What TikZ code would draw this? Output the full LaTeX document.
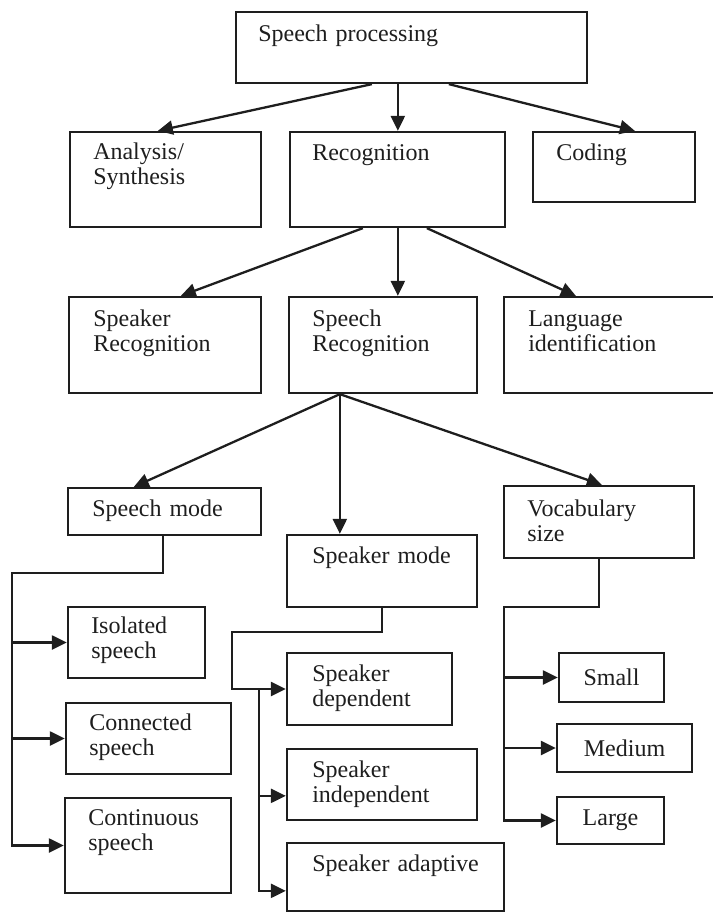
\documentclass[tikz,border=0pt]{standalone}
\usepackage{fontspec}
\setmainfont{Liberation Serif}
\usetikzlibrary{arrows.meta,calc,fit}
\definecolor{ink}{RGB}{30,30,30}
\begin{document}
\begin{tikzpicture}[x=0.5pt,y=-0.5pt,
  box/.style={draw=ink, line width=1.15pt, inner sep=0pt},
  lbl/.style={anchor=base west, inner sep=0pt, text width=110pt, align=left,
              text=ink, font=\fontsize{12}{12.5}\selectfont},
  clbl/.style={inner sep=0pt, text=ink, font=\fontsize{12}{12.5}\selectfont},
  wire/.style={draw=ink, line width=1.15pt},
  arrow/.style={wire, -{Triangle[length=7.5pt,width=7pt]}}]
\useasboundingbox (0,0) rectangle (712,914);

% ---- boxes ----
\node[box, fit={(236,12)(587,83)}]   (sp)     {};
\node[box, fit={(70,132)(261,227)}]  (as)     {};
\node[box, fit={(290,132)(505,227)}] (rec)    {};
\node[box, fit={(533,132)(695,202)}] (cod)    {};
\node[box, fit={(69,297)(261,393)}]  (spkr)   {};
\node[box, fit={(289,297)(477,393)}] (sprec)  {};
\node[box, fit={(504,297)(716,393)}] (lang)   {};
\node[box, fit={(68,488)(261,535)}]  (smode)  {};
\node[box, fit={(287,535)(477,607)}] (spmode) {};
\node[box, fit={(504,486)(694,558)}] (voc)    {};
\node[box, fit={(68,607)(205,678)}]  (iso)    {};
\node[box, fit={(66,703)(231,774)}]  (conn)   {};
\node[box, fit={(65,798)(231,893)}]  (cont)   {};
\node[box, fit={(287,653)(452,725)}] (dep)    {};
\node[box, fit={(287,749)(477,820)}] (ind)    {};
\node[box, fit={(287,843)(504,911)}] (ada)    {};
\node[box, fit={(559,653)(664,702)}] (small)  {};
\node[box, fit={(557,724)(692,772)}] (med)    {};
\node[box, fit={(557,797)(664,844)}] (large)  {};

% ---- labels ----
\node[lbl] (sp-t)     at ($(sp.north west)+(23,31)$)     {Speech processing};
\node[lbl] (as-t)     at ($(as.north west)+(24,29)$)     {Analysis/\\Synthesis};
\node[lbl] (rec-t)    at ($(rec.north west)+(23,30)$)    {Recognition};
\node[lbl] (cod-t)    at ($(cod.north west)+(24,30)$)    {Coding};
\node[lbl] (spkr-t)   at ($(spkr.north west)+(25,31)$)   {Speaker\\Recognition};
\node[lbl] (sprec-t)  at ($(sprec.north west)+(24,31)$)  {Speech\\Recognition};
\node[lbl] (lang-t)   at ($(lang.north west)+(25,31)$)   {Language\\identification};
\node[lbl] (smode-t)  at ($(smode.north west)+(25,30)$)  {Speech mode};
\node[lbl] (spmode-t) at ($(spmode.north west)+(26,30)$) {Speaker mode};
\node[lbl] (voc-t)    at ($(voc.north west)+(24,32)$)    {Vocabulary\\size};
\node[lbl] (iso-t)    at ($(iso.north west)+(24,28)$)    {Isolated\\speech};
\node[lbl] (conn-t)   at ($(conn.north west)+(24,29)$)   {Connected\\speech};
\node[lbl] (cont-t)   at ($(cont.north west)+(24,29)$)   {Continuous\\speech};
\node[lbl] (dep-t)    at ($(dep.north west)+(26,30)$)    {Speaker\\dependent};
\node[lbl] (ind-t)    at ($(ind.north west)+(26,30)$)    {Speaker\\independent};
\node[lbl] (ada-t)    at ($(ada.north west)+(26,30)$)    {Speaker adaptive};
\node[clbl] (small-t) at (small.center) {Small};
\node[clbl] (med-t)   at (med.center)   {Medium};
\node[clbl] (large-t) at (large.center) {Large};

% ---- first level ----
\draw[arrow] ($(sp.south west)+(137,0)$) -- ($(as.north west)+(89,0)$);
\draw[arrow] ($(sp.south west)+(163,0)$) -- ($(rec.north west)+(109,0)$);
\draw[arrow] ($(sp.south west)+(214,0)$) -- ($(cod.north west)+(103,0)$);

% ---- second level ----
\draw[arrow] ($(rec.south west)+(74,0)$)  -- ($(spkr.north west)+(113,0)$);
\draw[arrow] ($(rec.south west)+(109,0)$) -- ($(sprec.north west)+(110,0)$);
\draw[arrow] ($(rec.south west)+(138,0)$) -- ($(lang.north west)+(73,0)$);

% ---- third level ----
\coordinate (fork) at ($(sprec.south west)+(52,0)$);
\draw[arrow] (fork) -- ($(smode.north west)+(67,0)$);
\draw[arrow] (fork) -- ($(spmode.north west)+(54,0)$);
\draw[arrow] (fork) -- ($(voc.north west)+(99,0)$);

% ---- speech mode branches ----
\coordinate (sm-bus) at ($(smode.south west)+(-55,37)$);
\draw[arrow] ($(smode.south west)+(96,0)$) |- (sm-bus) |- (cont.west);
\draw[arrow] (sm-bus |- iso.west) -- (iso.west);
\draw[arrow] (sm-bus |- conn.west) -- (conn.west);

% ---- speaker mode branches ----
\coordinate (spm-bus) at ($(spmode.south west)+(-54,24)$);
\coordinate (spm-tap) at ($(dep.west)+(-27,0)$);
\coordinate (ind-port) at ($(ind.north west)+(0,48)$);
\coordinate (ada-port) at ($(ada.north west)+(0,49)$);
\draw[arrow] ($(spmode.south west)+(96,0)$) |- (spm-bus) |- (dep.west);
\draw[arrow] (spm-tap) |- (ada-port);
\draw[arrow] (spm-tap |- ind-port) -- (ind-port);

% ---- vocabulary size branches ----
\coordinate (voc-bus) at ($(voc.south west)+(1,48)$);
\draw[arrow] ($(voc.south west)+(96,0)$) |- (voc-bus) |- (large.west);
\draw[arrow] (voc-bus |- small.west) -- (small.west);
\draw[arrow] (voc-bus |- med.west) -- (med.west);
\end{tikzpicture}
\end{document}
